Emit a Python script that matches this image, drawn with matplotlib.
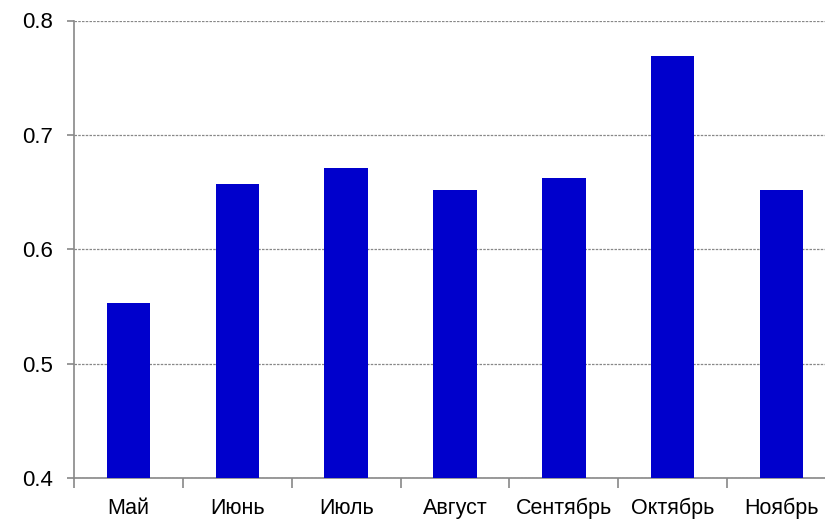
import matplotlib.pyplot as plt
from matplotlib.ticker import FixedLocator

months = ['Май', 'Июнь', 'Июль', 'Август', 'Сентябрь', 'Октябрь', 'Ноябрь']
values = [0.553, 0.657, 0.671, 0.652, 0.662, 0.769, 0.652]
y_ticks = [0.4, 0.5, 0.6, 0.7, 0.8]

plt.rcParams['font.family'] = ['Liberation Sans', 'DejaVu Sans']

fig = plt.figure(figsize=(8.25, 5.23), dpi=100)
# the axis runs a little past the right edge of the picture, like the original
ax = fig.add_axes([74 / 825, 1 - 478 / 523, 762 / 825, 457.5 / 523])

x = list(range(len(months)))
ax.bar(x, values, width=0.4, color='#0000cc', zorder=3)

ax.set_xlim(-0.5, len(months) - 0.5)
ax.set_ylim(0.4, 0.8)
ax.set_yticks(y_ticks)
ax.set_yticklabels([f'{v:.1f}' for v in y_ticks])

ax.set_xticks(x)
ax.set_xticklabels(months)
ax.xaxis.set_minor_locator(FixedLocator([i - 0.5 for i in range(len(months) + 1)]))
ax.tick_params(axis='x', which='major', length=0, pad=14.5, labelsize=15.5)
ax.tick_params(axis='x', which='minor', length=7, width=1.2, color='#888888')
ax.tick_params(axis='y', length=5, width=1.2, color='#888888', pad=10, labelsize=16)

ax.grid(axis='y', color='#888888', linestyle=(0, (2, 1)), linewidth=0.9, zorder=0)
for side in ['top', 'right']:
    ax.spines[side].set_visible(False)
for side in ['left', 'bottom']:
    ax.spines[side].set_color('#888888')
    ax.spines[side].set_linewidth(1.2)

fig.savefig('out.png', dpi=100)
